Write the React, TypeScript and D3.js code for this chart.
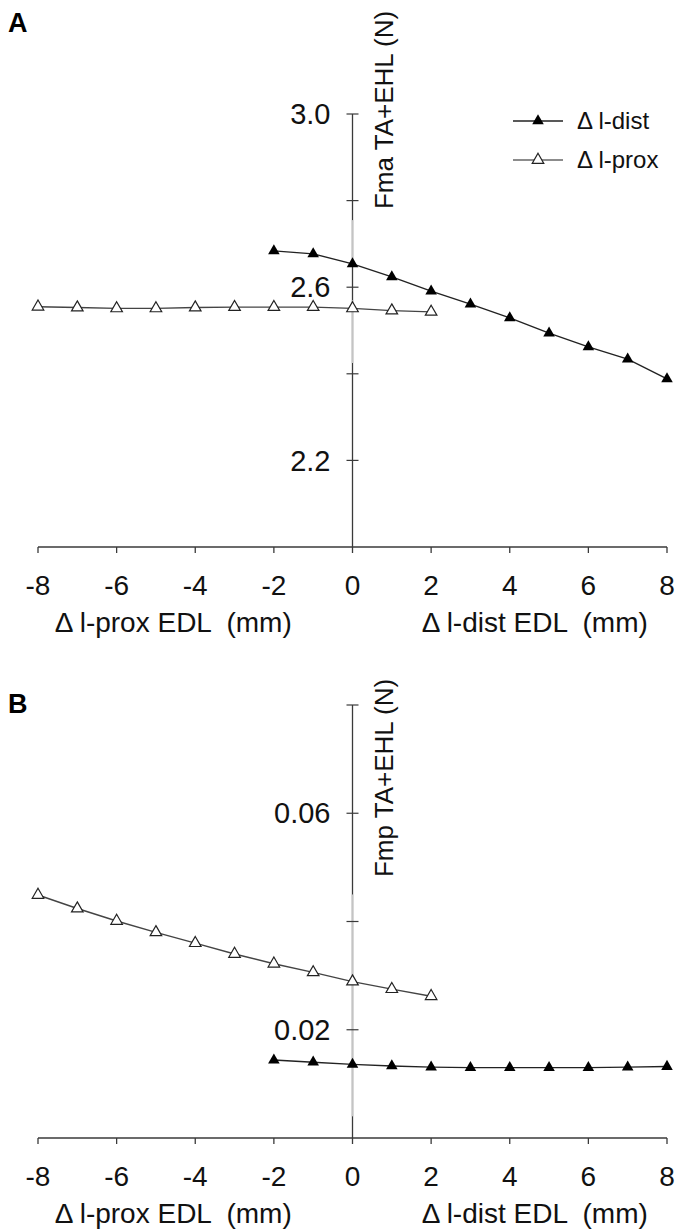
import { useEffect, useRef } from 'react';
import * as d3 from 'd3';

const W = 676;
const H = 1231;
const FONT = '"Liberation Sans", Arial, sans-serif';

// shared x values
const xTicks = [-8, -6, -4, -2, 0, 2, 4, 6, 8];
const distX = [-2, -1, 0, 1, 2, 3, 4, 5, 6, 7, 8];
const proxX = [-8, -7, -6, -5, -4, -3, -2, -1, 0, 1, 2];

// panel A: Fma TA+EHL (N)
const fmaDist = [2.684, 2.677, 2.654, 2.624, 2.591, 2.561, 2.529, 2.494, 2.462, 2.434, 2.388];
const fmaProx = [2.555, 2.553, 2.551, 2.551, 2.553, 2.554, 2.554, 2.554, 2.551, 2.546, 2.543];
const fmaTicks = [2.2, 2.4, 2.6, 2.8, 3.0];
const fmaTickLabels = [2.2, 2.6, 3.0];

// panel B: Fmp TA+EHL (N)
const fmpDist = [0.0144, 0.014, 0.0136, 0.0133, 0.0131, 0.013, 0.013, 0.013, 0.013, 0.0131, 0.0132];
const fmpProx = [0.0449, 0.0424, 0.0401, 0.038, 0.036, 0.034, 0.0322, 0.0306, 0.0289, 0.0275, 0.0262];
const fmpTicks = [0.02, 0.04, 0.06, 0.08];
const fmpTickLabels = [0.02, 0.06];

const legendItems = ['\u0394 l-dist', '\u0394 l-prox'];

export default function App() {
    const svgRef = useRef(null);

    useEffect(() => {
        const svg = d3.select(svgRef.current);
        svg.selectAll('*').remove();

        const x = d3.scaleLinear().domain([-8, 8]).range([38, 667]);

        const panels = [
            {
                label: 'A', labelY: 32,
                y: d3.scaleLinear().domain([2.0, 3.0]).range([547, 114]),
                ticks: fmaTicks, tickLabels: fmaTickLabels, fmt: d3.format('.1f'),
                title: 'Fma TA+EHL (N)', titleY: 110,
                dist: fmaDist, prox: fmaProx,
                light: [[2.425, 2.57], [2.663, 2.755]],
                legend: true,
            },
            {
                label: 'B', labelY: 713,
                y: d3.scaleLinear().domain([0, 0.08]).range([1138, 705]),
                ticks: fmpTicks, tickLabels: fmpTickLabels, fmt: d3.format('.2f'),
                title: 'Fmp TA+EHL (N)', titleY: 778,
                dist: fmpDist, prox: fmpProx,
                light: [[0.004, 0.045]],
                legend: false,
            },
        ];

        const tri = d3.symbol().type(d3.symbolTriangle).size(58);
        const axisColor = '#3a3a3a';

        panels.forEach(p => {
            const g = svg.append('g');
            const [y0, y1] = p.y.domain();
            const base = p.y(y0);

            // panel letter
            g.append('text')
                .attr('x', 8).attr('y', p.labelY)
                .attr('font-size', 27).attr('font-weight', 'bold')
                .attr('font-family', FONT)
                .text(p.label);

            // x axis
            g.append('line')
                .attr('x1', x(-8)).attr('x2', x(8))
                .attr('y1', base).attr('y2', base)
                .attr('stroke', axisColor).attr('stroke-width', 1.3);

            g.selectAll('.xt').data(xTicks).join('line')
                .attr('x1', d => x(d)).attr('x2', d => x(d))
                .attr('y1', base).attr('y2', base + 6)
                .attr('stroke', axisColor).attr('stroke-width', 1.3);

            g.selectAll('.xl').data(xTicks).join('text')
                .attr('x', d => x(d)).attr('y', base + 48)
                .attr('text-anchor', 'middle')
                .attr('font-size', 28).attr('font-family', FONT)
                .attr('fill', '#111')
                .text(d => String(d));

            g.append('text')
                .attr('x', x(-4) - 22).attr('y', base + 85)
                .attr('text-anchor', 'middle')
                .attr('font-size', 28).attr('font-family', FONT)
                .attr('fill', '#111')
                .attr('xml:space', 'preserve')
                .text('\u0394 l-prox EDL  (mm)');

            g.append('text')
                .attr('x', x(4) + 25).attr('y', base + 85)
                .attr('text-anchor', 'middle')
                .attr('font-size', 28).attr('font-family', FONT)
                .attr('fill', '#111')
                .attr('xml:space', 'preserve')
                .text('\u0394 l-dist EDL  (mm)');

            // y axis
            g.append('line')
                .attr('x1', x(0)).attr('x2', x(0))
                .attr('y1', p.y(y1)).attr('y2', base)
                .attr('stroke', axisColor).attr('stroke-width', 1.3);

            g.selectAll('.yl-light').data(p.light).join('line')
                .attr('x1', x(0)).attr('x2', x(0))
                .attr('y1', d => p.y(d[0])).attr('y2', d => p.y(d[1]))
                .attr('stroke', '#c4c4c4').attr('stroke-width', 1.6);

            g.selectAll('.yt').data(p.ticks).join('line')
                .attr('x1', x(0) - 6).attr('x2', x(0) + 6)
                .attr('y1', d => p.y(d)).attr('y2', d => p.y(d))
                .attr('stroke', axisColor).attr('stroke-width', 1.2);

            g.selectAll('.ylab').data(p.tickLabels).join('text')
                .attr('x', x(0) - 22).attr('y', d => p.y(d))
                .attr('dy', '0.35em')
                .attr('text-anchor', 'end')
                .attr('font-size', 29).attr('font-family', FONT)
                .attr('fill', '#111')
                .text(d => p.fmt(d));

            g.append('text')
                .attr('transform', `translate(${x(0) + 40},${p.titleY}) rotate(-90)`)
                .attr('text-anchor', 'middle')
                .attr('font-size', 26).attr('font-family', FONT)
                .attr('fill', '#111')
                .text(p.title);

            // series
            const line = d3.line<[number, number]>()
                .x(d => x(d[0])).y(d => p.y(d[1]));

            const distPts = distX.map((v, i) => [v, p.dist[i]] as [number, number]);
            const proxPts = proxX.map((v, i) => [v, p.prox[i]] as [number, number]);

            g.append('path').attr('d', line(proxPts))
                .attr('fill', 'none').attr('stroke', '#444').attr('stroke-width', 1.4);
            g.append('path').attr('d', line(distPts))
                .attr('fill', 'none').attr('stroke', '#222').attr('stroke-width', 1.4);

            g.selectAll('.pp').data(proxPts).join('path')
                .attr('d', tri)
                .attr('transform', d => `translate(${x(d[0])},${p.y(d[1])})`)
                .attr('fill', '#fff').attr('stroke', '#222').attr('stroke-width', 1.2);

            g.selectAll('.dp').data(distPts).join('path')
                .attr('d', tri)
                .attr('transform', d => `translate(${x(d[0])},${p.y(d[1])})`)
                .attr('fill', '#000');

            if (p.legend) {
                const lg = g.append('g').attr('transform', 'translate(513,121)');
                legendItems.forEach((name, i) => {
                    const row = lg.append('g').attr('transform', `translate(0,${i * 39})`);
                    row.append('line')
                        .attr('x1', 0).attr('x2', 50)
                        .attr('stroke', i === 0 ? '#222' : '#666').attr('stroke-width', 1.4);
                    row.append('path')
                        .attr('d', tri)
                        .attr('transform', 'translate(25,0)')
                        .attr('fill', i === 0 ? '#000' : '#fff')
                        .attr('stroke', '#222').attr('stroke-width', i === 0 ? 0 : 1.2);
                    row.append('text')
                        .attr('x', 64).attr('y', 0).attr('dy', '0.35em')
                        .attr('font-size', 24).attr('font-family', FONT)
                        .attr('fill', '#111')
                        .text(name);
                });
            }
        });
    }, []);

    return (
        <svg
            ref={svgRef}
            width={W}
            height={H}
            style={{ position: 'absolute', left: 0, top: 0, background: '#fff', display: 'block' }}
        />
    );
}
